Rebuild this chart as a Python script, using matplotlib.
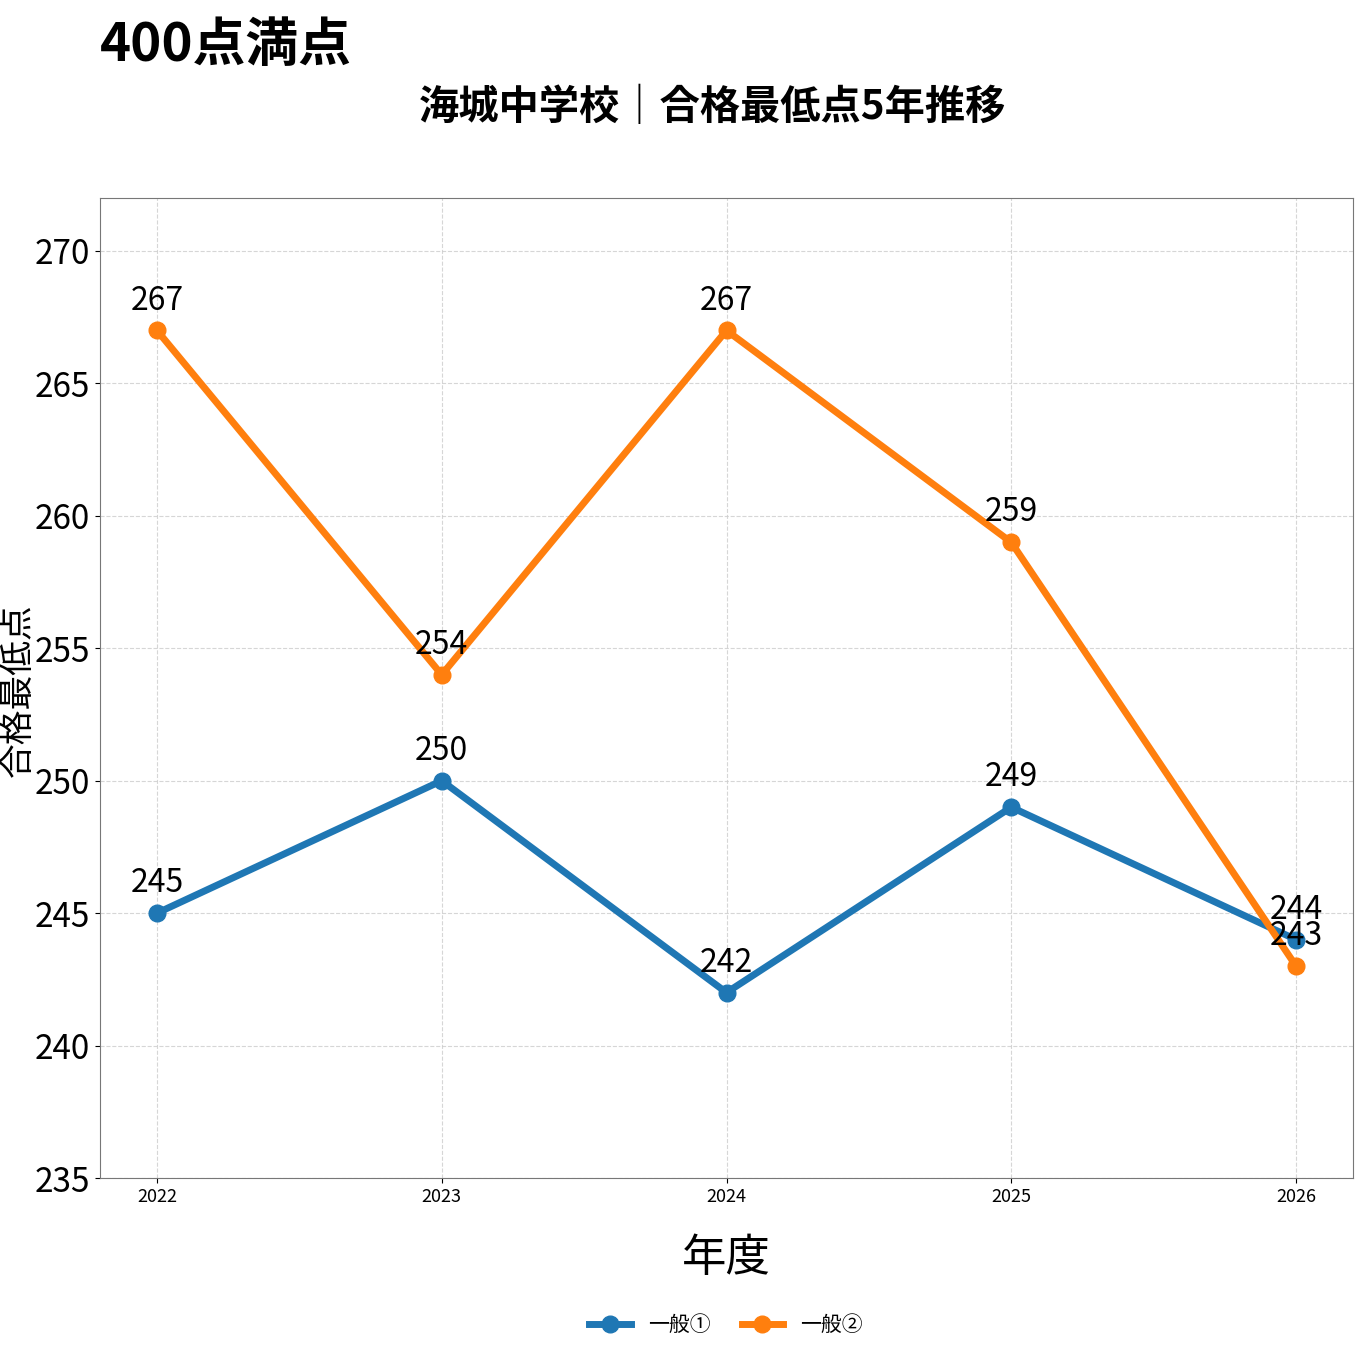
import matplotlib
matplotlib.use("Agg")
import matplotlib.pyplot as plt

plt.rcParams['font.family'] = ['Noto Sans CJK JP', 'DejaVu Sans']

years = [2022, 2023, 2024, 2025, 2026]
ippan1 = [245, 250, 242, 249, 244]
ippan2 = [267, 254, 267, 259, 243]
series_names = ["一般①", "一般②"]
title = "海城中学校｜合格最低点5年推移"
suptitle = "400点満点"
xlabel = "年度"
ylabel = "合格最低点"

fig = plt.figure(figsize=(13.63, 13.63), dpi=100)
ax = fig.add_axes([100/1363, 1-1178/1363, 1253/1363, 980/1363])

colors = ['#1f77b4', '#ff7f0e']
for vals, name, c in zip([ippan1, ippan2], series_names, colors):
    ax.plot(years, vals, color=c, linewidth=5, marker='o', markersize=12, label=name)
    for x, y in zip(years, vals):
        ax.annotate(str(y), (x, y), textcoords='offset points', xytext=(0, 10),
                    ha='center', va='bottom', fontsize=23)

ax.set_xlim(2021.8, 2026.2)
ax.set_ylim(235, 272)
ax.set_xticks(years)
ax.set_xticklabels([str(y) for y in years], fontsize=13)
ax.set_yticks(range(235, 271, 5))
ax.tick_params(axis='y', labelsize=24)
ax.grid(True, linestyle='--', color='#cccccc', linewidth=0.8, alpha=0.8)
for s in ax.spines.values():
    s.set_color('#777777')

fig.text(726/1363, 1-1258/1363, xlabel, ha='center', va='center', fontsize=32)
fig.text(18/1363, 1-690/1363, ylabel, ha='center', va='center', fontsize=25, rotation=90)

fig.text(713/1363, 1-108/1363, title, ha='center', va='center', fontsize=29, fontweight='bold')
fig.text(100/1363, 1-45/1363, suptitle, ha='left', va='center', fontsize=38, fontweight='bold')

fig.legend(loc='center', bbox_to_anchor=(726/1363, 1-1325/1363), ncol=2, frameon=False,
           fontsize=15, handlelength=2.0, columnspacing=1.5)

fig.savefig("out.png", dpi=100)
